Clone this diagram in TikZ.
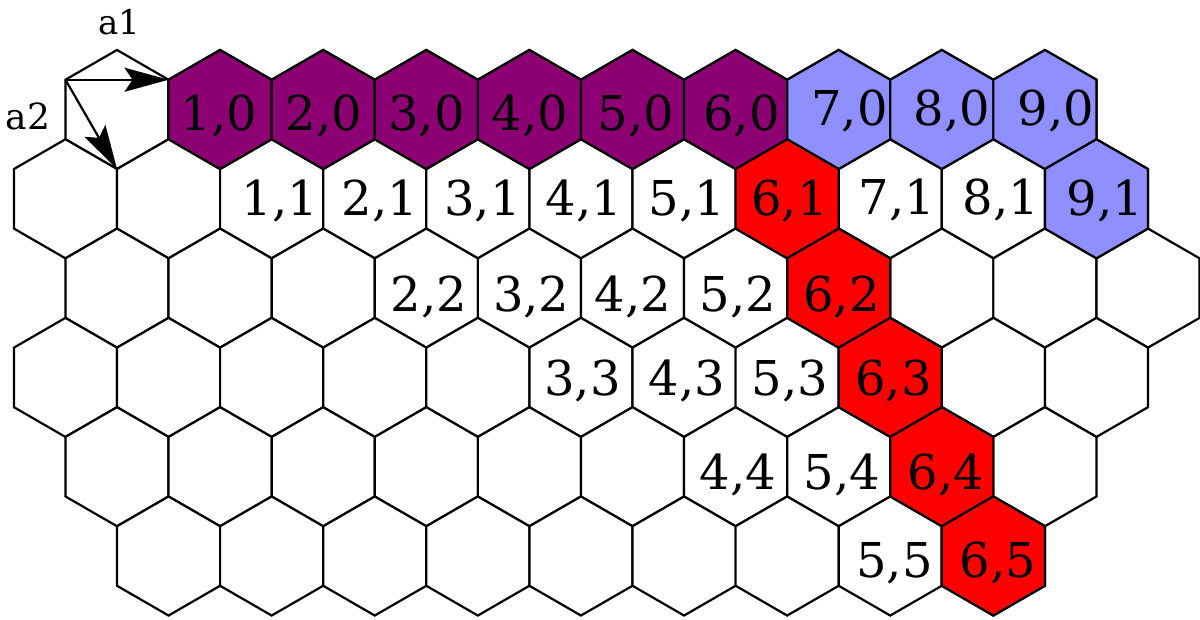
\documentclass[tikz,border=0pt]{standalone}
\usepackage{fontspec}
\setmainfont{DejaVu Serif}
\usetikzlibrary{arrows.meta}
\definecolor{hexpurple}{RGB}{140,0,115}
\definecolor{hexblue}{RGB}{143,143,255}
\definecolor{hexred}{RGB}{255,0,0}
\newcommand{\hexcell}[3]{%
  \filldraw[hexline, fill=#3] (#1,#2-59.53) -- (#1+51.55,#2-29.765) -- (#1+51.55,#2+29.765) -- (#1,#2+59.53) -- (#1-51.55,#2+29.765) -- (#1-51.55,#2-29.765) -- cycle;}
\tikzset{
  hexline/.style={draw=black, line width=2.2pt, line join=miter},
  lbl/.style={font=\fontsize{48}{48}\selectfont, inner sep=0pt, text height=35pt, text depth=0pt, anchor=center},
  vlbl/.style={inner sep=0pt, text depth=0pt, anchor=center},
  vecarrow/.style={line width=2.2pt, -{Stealth[length=44pt, width=24pt, inset=8pt]}}
}
\begin{document}
\begin{tikzpicture}[x=1pt, y=-1pt]
\useasboundingbox (0,0) rectangle (1200,619);
\fill[white] (0,0) rectangle (1200,619);
% white cells
\foreach \k in {0,...,9} {\hexcell{117+103.1*\k}{109.5}{white}}
\foreach \k in {0,...,10} {\hexcell{65.45+103.1*\k}{198.8}{white}}
\foreach \k in {0,...,10} {\hexcell{117+103.1*\k}{288.1}{white}}
\foreach \k in {0,...,10} {\hexcell{65.45+103.1*\k}{377.4}{white}}
\foreach \k in {0,...,9} {\hexcell{117+103.1*\k}{466.7}{white}}
\foreach \k in {1,...,9} {\hexcell{65.45+103.1*\k}{556.0}{white}}
% coloured cells
\foreach \k in {1,...,6} {\hexcell{117+103.1*\k}{109.5}{hexpurple}}
\foreach \k in {7,8,9} {\hexcell{117+103.1*\k}{109.5}{hexblue}}
\hexcell{1096.45}{198.8}{hexblue}
\hexcell{787.15}{198.8}{hexred}
\hexcell{838.7}{288.1}{hexred}
\hexcell{890.25}{377.4}{hexred}
\hexcell{941.8}{466.7}{hexred}
\hexcell{993.35}{556.0}{hexred}
% lattice vectors
\coordinate (O) at (65.45,79.735);
\coordinate (A1) at (168.55,79.735);
\coordinate (A2) at (117,169.03);
\draw[vecarrow] (O) -- (A1);
\draw[vecarrow] (O) -- (A2);
\node[vlbl, font=\fontsize{34}{34}\selectfont, text height=24.8pt] (ta1) at (119,22.5) {a1};
\node[vlbl, font=\fontsize{36}{36}\selectfont, text height=26.3pt] (ta2) at (28,116.7) {a2};
% labels row 0
\node[lbl] (l10) at (219,113) {1,0};
\node[lbl] (l20) at (323.8,113) {2,0};
\node[lbl] (l30) at (426.5,113) {3,0};
\node[lbl] (l40) at (530,113) {4,0};
\node[lbl] (l50) at (636,113) {5,0};
\node[lbl] (l60) at (741.5,113) {6,0};
\node[lbl] (l70) at (849.5,107.5) {7,0};
\node[lbl] (l80) at (952,108) {8,0};
\node[lbl] (l90) at (1056,107.5) {9,0};
% row 1
\node[lbl] (l11) at (279.7,198) {1,1};
\node[lbl] (l21) at (380,198) {2,1};
\node[lbl] (l31) at (482.5,198) {3,1};
\node[lbl] (l41) at (584,198) {4,1};
\node[lbl] (l51) at (686.7,198) {5,1};
\node[lbl] (l61) at (789.5,198) {6,1};
\node[lbl] (l71) at (896.7,196.5) {7,1};
\node[lbl] (l81) at (1000.7,196.7) {8,1};
\node[lbl] (l91) at (1105,198) {9,1};
% row 2
\node[lbl] (l22) at (429,293.5) {2,2};
\node[lbl] (l32) at (531.3,293.5) {3,2};
\node[lbl] (l42) at (633,293.5) {4,2};
\node[lbl] (l52) at (738,293.5) {5,2};
\node[lbl] (l62) at (841.5,293.5) {6,2};
% row 3
\node[lbl] (l33) at (582.5,378) {3,3};
\node[lbl] (l43) at (686.7,378) {4,3};
\node[lbl] (l53) at (790,378) {5,3};
\node[lbl] (l63) at (893.5,378) {6,3};
% row 4
\node[lbl] (l44) at (738,471.5) {4,4};
\node[lbl] (l54) at (841.7,471.5) {5,4};
\node[lbl] (l64) at (946,471.5) {6,4};
% row 5
\node[lbl] (l55) at (894.5,560) {5,5};
\node[lbl] (l65) at (997.7,560) {6,5};
\end{tikzpicture}
\end{document}
